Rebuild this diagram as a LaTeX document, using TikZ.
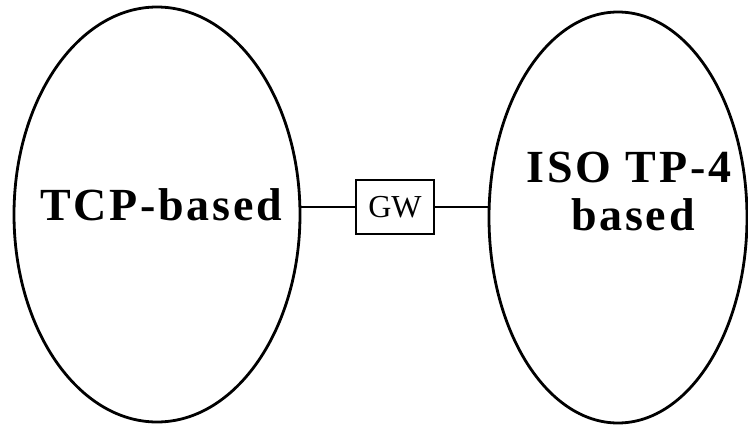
\documentclass[tikz,border=0pt]{standalone}
\usepackage{fontspec}
\setmainfont{Liberation Serif}
\newfontfamily\spacedbold[LetterSpace=6]{Liberation Serif Bold}
\usetikzlibrary{shapes.geometric}
\begin{document}
\begin{tikzpicture}[x=1pt,y=-1pt,
  net/.style={draw=black,line width=2.8pt,ellipse,inner sep=0pt},
  lbl/.style={anchor=base,font=\fontsize{46}{50}\spacedbold,inner sep=0pt},
  gwbox/.style={draw=black,line width=2.4pt,minimum width=78pt,minimum height=54pt,inner sep=0pt,font=\fontsize{32}{34}\selectfont},
  link/.style={line width=2.8pt}]
\useasboundingbox (0,0) rectangle (748,426);
\node[net,minimum width=286pt,minimum height=415pt] (left) at (157,214.5) {};
\node[net,minimum width=258pt,minimum height=411pt] (right) at (618,217.5) {};
\node[gwbox] (gw) at (395,207) {GW};
\node[lbl] (tcp) at (161,220) {TCP-based};
\node[lbl] (iso) at (629,182) {ISO TP-4};
\node[lbl] (based) at (633,230) {based};
\draw[link] (gw.west) -- (gw.west -| left.east);
\draw[link] (gw.east) -- (gw.east -| right.west);
\end{tikzpicture}
\end{document}
